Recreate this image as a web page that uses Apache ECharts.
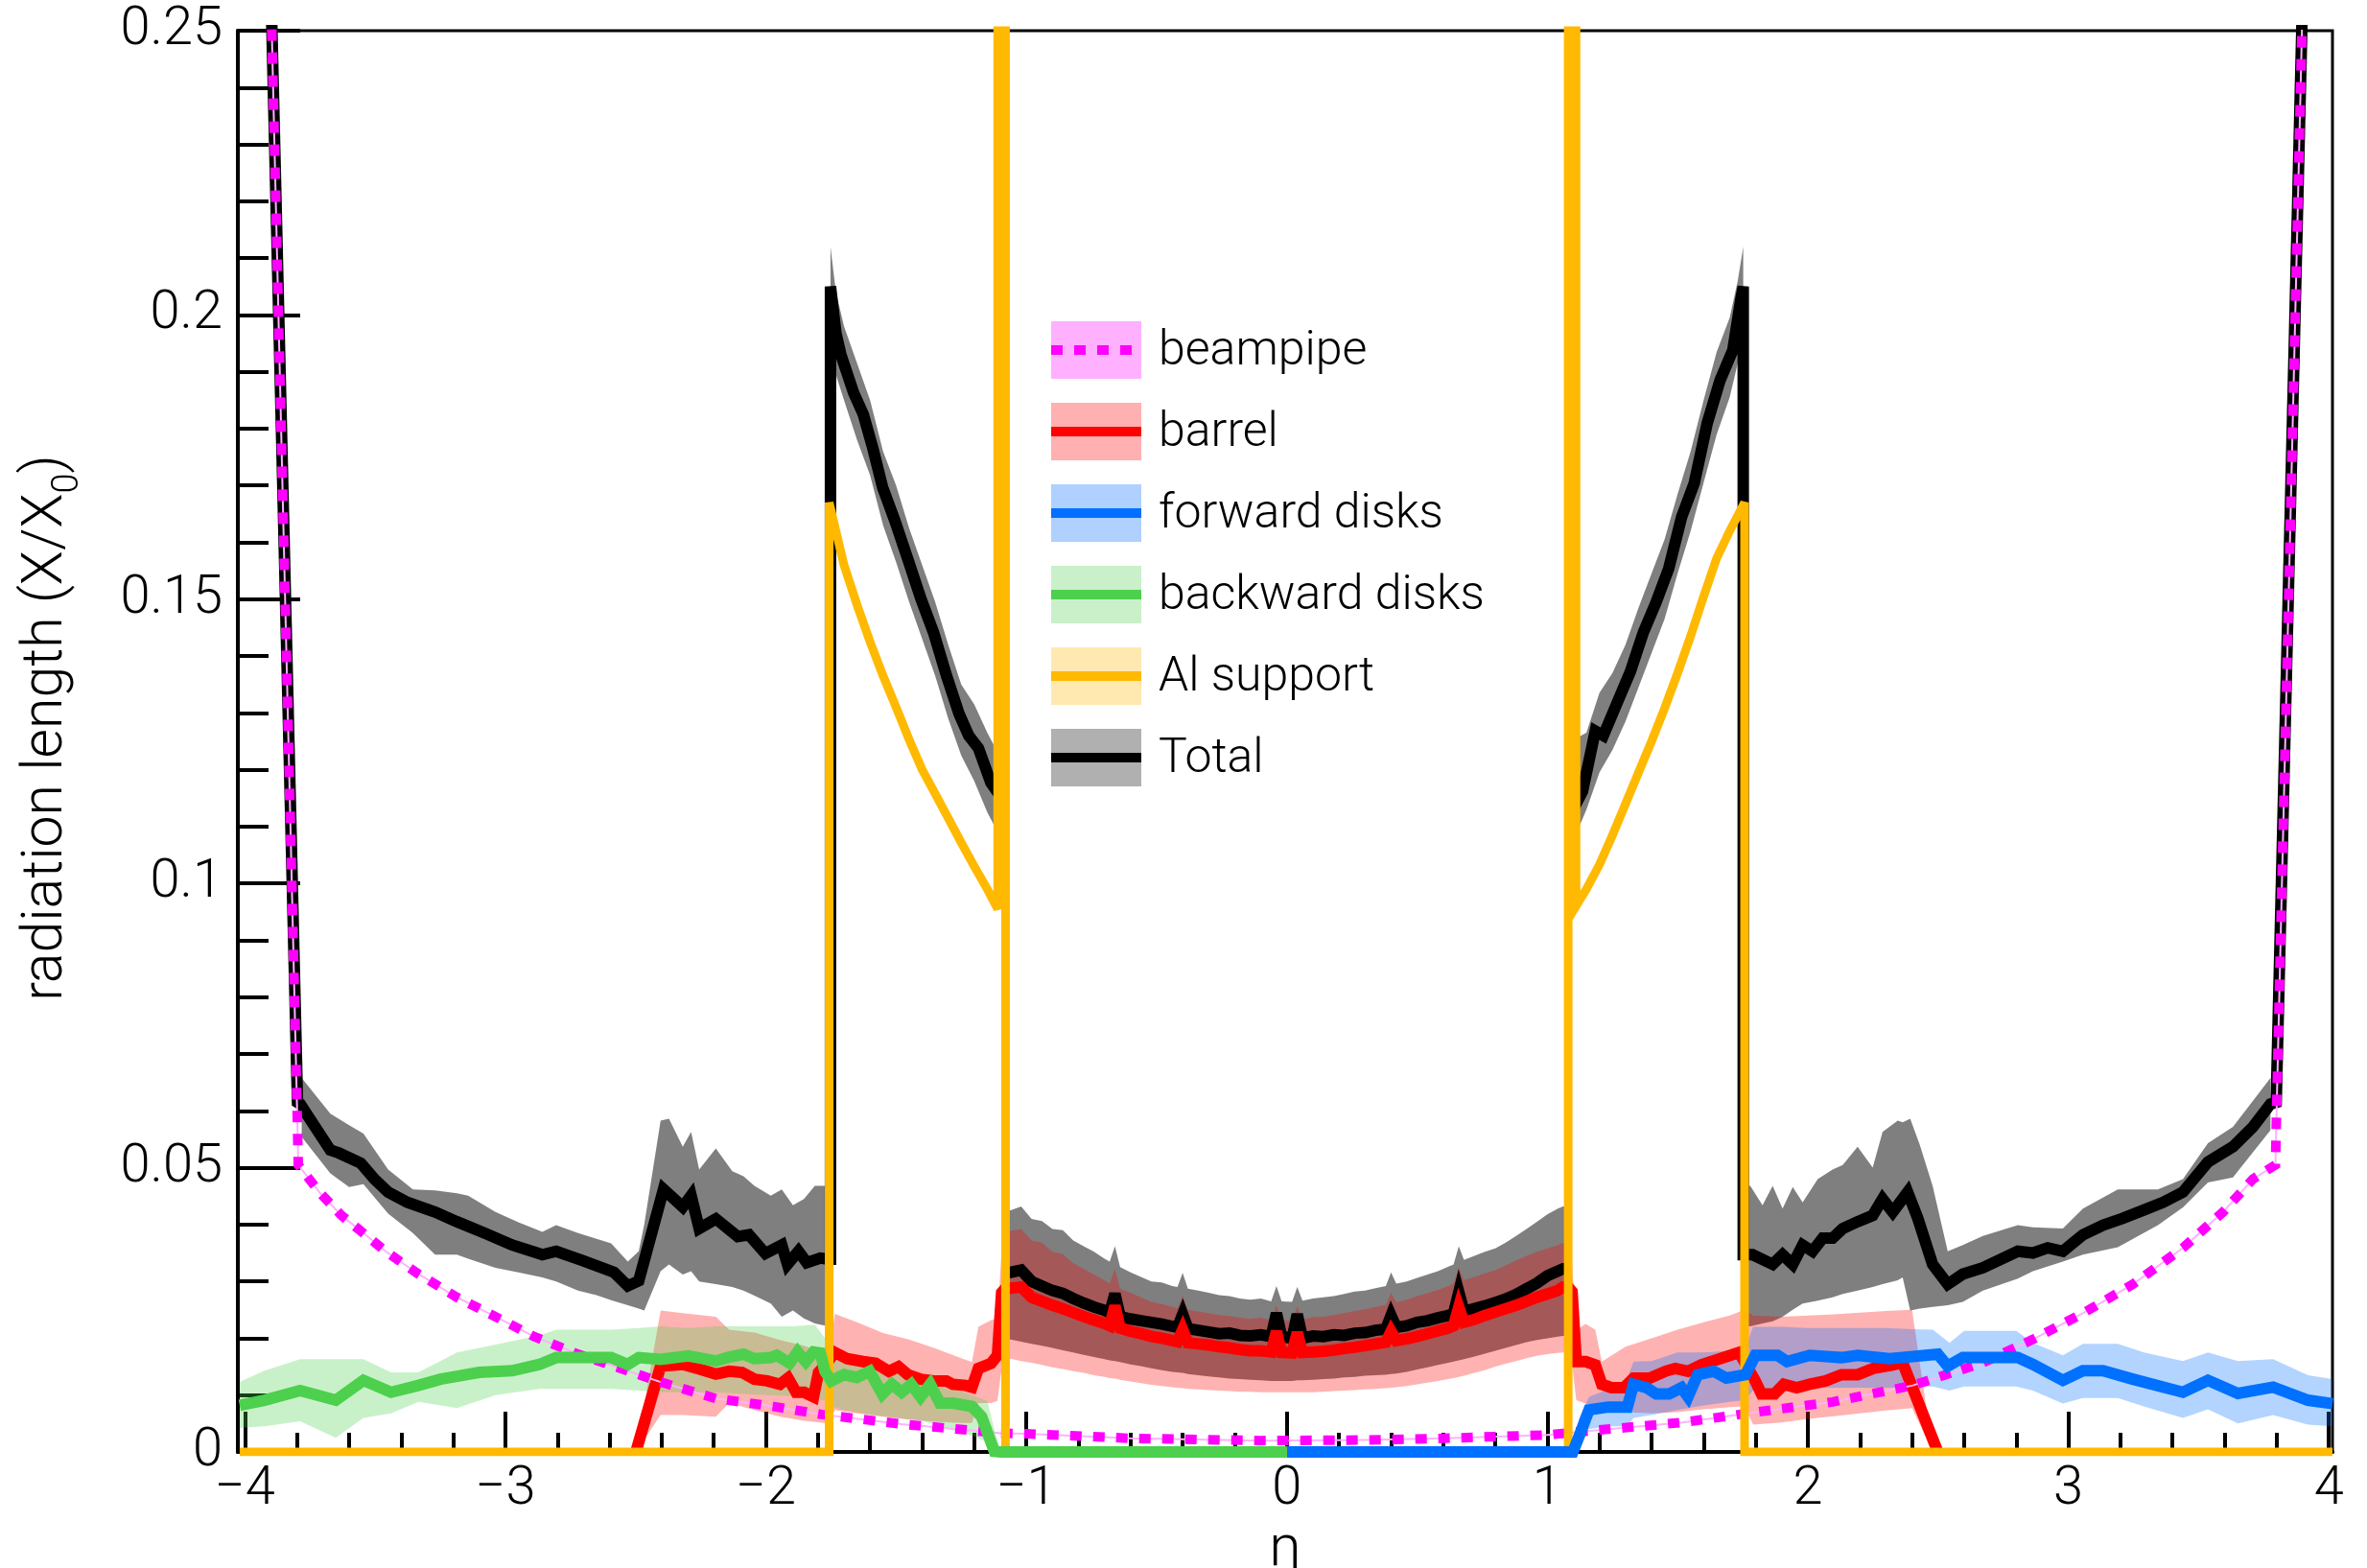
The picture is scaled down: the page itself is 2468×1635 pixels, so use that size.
<!DOCTYPE html>
<html><head><meta charset="utf-8">
<script src="https://cdn.jsdelivr.net/npm/echarts@6/dist/echarts.min.js"></script>
<style>html,body{margin:0;padding:0;background:#fff}#chart{width:2468px;height:1635px}</style>
</head><body><div id="chart"></div>
<script>
// ---------------- DATA ----------------
const xMajorTicks = [-4,-3,-2,-1,0,1,2,3,4];
const xMinorTicks = [-3.8,-3.6,-3.4,-3.2,-2.8,-2.6,-2.4,-2.2,-1.8,-1.6,-1.4,-1.2,-0.8,-0.6,-0.4,-0.2,0.2,0.4,0.6,0.8,1.2,1.4,1.6,1.8,2.2,2.4,2.6,2.8,3.2,3.4,3.6,3.8];
const legendNames = ['beampipe','barrel','forward disks','backward disks','Al support','Total'];

// shared fine grid of the barrel region
const centerEta = [-1.06,-1.02,-0.98,-0.94,-0.90,-0.86,-0.82,-0.78,-0.74,-0.70,-0.68,-0.66,-0.64,-0.60,-0.56,-0.52,-0.48,-0.44,-0.42,-0.40,-0.38,-0.34,-0.30,-0.26,-0.22,-0.18,-0.14,-0.10,-0.06,-0.04,-0.02,0.02,0.04,0.06,0.10,0.14,0.18,0.22,0.26,0.30,0.34,0.38,0.40,0.42,0.46,0.50,0.54,0.58,0.62,0.64,0.66,0.68,0.72,0.76,0.80,0.84,0.88,0.92,0.96,1.00,1.04,1.06];

// Total (null = gap hidden behind the Al spike)
const totalLeftEta = [-3.93,-3.798,-3.788,-3.672,-3.640,-3.555,-3.503,-3.450,-3.376,-3.270,-3.186,-3.080,-2.974,-2.858,-2.805,-2.699,-2.583,-2.530,-2.488,-2.393,-2.319,-2.287,-2.256,-2.192,-2.108,-2.065,-2.002,-1.939,-1.917,-1.875,-1.843,-1.791,-1.760];
const totalLeftVal = [0.315,0.0615,0.0612,0.0531,0.0526,0.0508,0.0480,0.0457,0.0439,0.0422,0.0405,0.0385,0.0364,0.0347,0.0353,0.0336,0.0316,0.0292,0.0301,0.0462,0.0431,0.0451,0.0393,0.0410,0.0379,0.0382,0.0349,0.0364,0.0330,0.0353,0.0333,0.0341,0.0339];
const totalPeakLeftEta = [-1.752,-1.752,-1.731,-1.712,-1.663,-1.626,-1.589,-1.552,-1.504,-1.454,-1.405,-1.356,-1.307,-1.258,-1.221,-1.184,-1.136,-1.110,-1.095,-1.085,-1.075];
const totalPeakLeftVal = [0.0339,0.2050,0.1968,0.1930,0.1863,0.1825,0.1765,0.1697,0.1637,0.1569,0.1501,0.1441,0.1366,0.1298,0.1260,0.1238,0.1177,0.1160,0.1155,null,0.0316];
const totalCenterVal = [0.0316,0.0320,0.0300,0.0292,0.0284,0.0279,0.0270,0.0262,0.0255,0.0249,0.0245,0.0278,0.0238,0.0234,0.0231,0.0228,0.0225,0.0221,0.0219,0.0242,0.0217,0.0214,0.0211,0.0208,0.0209,0.0205,0.0204,0.0206,0.0203,0.0244,0.0203,0.0200,0.0242,0.0200,0.0204,0.0203,0.0206,0.0205,0.0209,0.0210,0.0214,0.0216,0.0240,0.0219,0.0222,0.0228,0.0231,0.0236,0.0240,0.0244,0.0281,0.0247,0.0252,0.0257,0.0263,0.0269,0.0277,0.0287,0.0297,0.0310,0.0318,0.0322];
const totalPeakRightEta = [1.075,1.085,1.095,1.110,1.135,1.184,1.215,1.270,1.319,1.368,1.417,1.466,1.515,1.564,1.614,1.663,1.712,1.743,1.752,1.752];
const totalPeakRightVal = [0.0322,null,0.1150,0.1140,0.1162,0.1268,0.1260,0.1320,0.1373,0.1441,0.1494,0.1554,0.1644,0.1704,0.1810,0.1885,0.1938,0.2028,0.2050,0.0347];
const totalRightEta = [1.788,1.865,1.903,1.942,1.980,2.018,2.057,2.095,2.134,2.191,2.249,2.287,2.326,2.383,2.422,2.479,2.537,2.595,2.672,2.806,2.864,2.921,2.979,3.056,3.133,3.209,3.286,3.363,3.440,3.536,3.632,3.709,3.776,3.798,3.93];
const totalRightVal = [0.0347,0.0330,0.0347,0.0330,0.0364,0.0353,0.0376,0.0376,0.0393,0.0405,0.0416,0.0445,0.0422,0.0457,0.0411,0.0330,0.0295,0.0313,0.0324,0.0353,0.0350,0.0359,0.0353,0.0382,0.0399,0.0411,0.0425,0.0439,0.0457,0.0510,0.0537,0.0572,0.0612,0.0615,0.315];

// Total uncertainty band
const totalBandLeftEta = [-3.782,-3.672,-3.600,-3.545,-3.450,-3.355,-3.270,-3.186,-3.143,-3.038,-2.950,-2.858,-2.805,-2.721,-2.650,-2.594,-2.530,-2.488,-2.467,-2.404,-2.372,-2.319,-2.287,-2.256,-2.192,-2.129,-2.086,-2.044,-1.981,-1.939,-1.896,-1.854,-1.812,-1.760];
const totalBandLeftLo = [0.0554,0.0490,0.0466,0.0471,0.0419,0.0385,0.0347,0.0347,0.0340,0.0324,0.0316,0.0307,0.0300,0.0284,0.0276,0.0267,0.0258,0.0252,0.0249,0.0318,0.0330,0.0312,0.0318,0.0300,0.0295,0.0290,0.0284,0.0275,0.0261,0.0238,0.0249,0.0235,0.0226,0.0221];
const totalBandLeftHi = [0.0658,0.0595,0.0575,0.0560,0.0497,0.0462,0.0460,0.0455,0.0451,0.0422,0.0404,0.0387,0.0399,0.0385,0.0375,0.0367,0.0335,0.0353,0.0400,0.0583,0.0586,0.0537,0.0563,0.0497,0.0534,0.0494,0.0485,0.0468,0.0451,0.0462,0.0434,0.0445,0.0468,0.0468];
const totalBandPeakLeftEta = [-1.752,-1.752,-1.731,-1.700,-1.650,-1.600,-1.550,-1.500,-1.450,-1.400,-1.350,-1.300,-1.250,-1.200,-1.150,-1.110,-1.090,-1.078];
const totalBandPeakLeftLo = [0.0221,0.1990,0.1895,0.1850,0.1780,0.1718,0.1630,0.1565,0.1495,0.1430,0.1365,0.1290,0.1225,0.1180,0.1125,0.1090,0.1085,0.0198];
const totalBandPeakLeftHi = [0.0468,0.2120,0.2040,0.1980,0.1915,0.1850,0.1760,0.1700,0.1625,0.1560,0.1495,0.1420,0.1350,0.1315,0.1265,0.1230,0.1220,0.0425];
const totalBandCenterLo = [0.0198,0.0194,0.0190,0.0187,0.0183,0.0179,0.0175,0.0171,0.0167,0.0163,0.0161,0.0160,0.0158,0.0154,0.0151,0.0147,0.0144,0.0141,0.0140,0.0139,0.0137,0.0135,0.0133,0.0131,0.0129,0.0128,0.0127,0.0126,0.0125,0.0125,0.0125,0.0125,0.0126,0.0126,0.0127,0.0128,0.0129,0.0131,0.0132,0.0134,0.0135,0.0136,0.0137,0.0138,0.0141,0.0145,0.0149,0.0153,0.0157,0.0159,0.0161,0.0163,0.0168,0.0173,0.0178,0.0183,0.0188,0.0193,0.0197,0.0200,0.0203,0.0204];
const totalBandCenterHi = [0.0425,0.0432,0.0410,0.0406,0.0392,0.0390,0.0372,0.0362,0.0352,0.0340,0.0335,0.0362,0.0325,0.0316,0.0308,0.0300,0.0298,0.0292,0.0290,0.0315,0.0287,0.0284,0.0280,0.0276,0.0274,0.0270,0.0268,0.0270,0.0265,0.0292,0.0265,0.0264,0.0290,0.0266,0.0270,0.0272,0.0274,0.0278,0.0282,0.0284,0.0288,0.0292,0.0316,0.0296,0.0300,0.0306,0.0312,0.0318,0.0326,0.0330,0.0362,0.0338,0.0345,0.0352,0.0358,0.0368,0.0380,0.0392,0.0405,0.0418,0.0428,0.0432];
const totalBandPeakRightEta = [1.078,1.090,1.110,1.150,1.200,1.250,1.300,1.350,1.400,1.450,1.500,1.550,1.600,1.650,1.700,1.731,1.752,1.752];
const totalBandPeakRightLo = [0.0204,0.1085,0.1087,0.1130,0.1195,0.1235,0.1285,0.1345,0.1405,0.1465,0.1545,0.1620,0.1705,0.1790,0.1855,0.1915,0.1990,0.0221];
const totalBandPeakRightHi = [0.0432,0.1253,0.1255,0.1265,0.1335,0.1370,0.1420,0.1485,0.1545,0.1605,0.1685,0.1760,0.1850,0.1935,0.1995,0.2060,0.2120,0.0468];
const totalBandRightEta = [1.779,1.826,1.865,1.903,1.942,1.980,2.038,2.095,2.134,2.191,2.249,2.287,2.345,2.364,2.393,2.430,2.479,2.537,2.595,2.672,2.806,2.864,2.979,3.056,3.190,3.344,3.440,3.536,3.632,3.776];
const totalBandRightLo = [0.0221,0.0226,0.0230,0.0238,0.0250,0.0261,0.0266,0.0272,0.0278,0.0284,0.0290,0.0295,0.0302,0.0307,0.0249,0.0252,0.0255,0.0258,0.0264,0.0284,0.0305,0.0318,0.0335,0.0347,0.0360,0.0399,0.0430,0.0474,0.0483,0.0566];
const totalBandRightHi = [0.0468,0.0434,0.0468,0.0428,0.0466,0.0439,0.0480,0.0497,0.0505,0.0537,0.0500,0.0563,0.0583,0.0580,0.0586,0.0540,0.0468,0.0353,0.0364,0.0380,0.0399,0.0395,0.0393,0.0428,0.0462,0.0462,0.0480,0.0543,0.0572,0.0658];

// barrel
const barrelLeftEta = [-2.499,-2.404,-2.319,-2.256,-2.192,-2.141,-2.092,-2.044,-1.995,-1.946,-1.915,-1.884,-1.853,-1.817,-1.798,-1.776,-1.735,-1.688,-1.627,-1.578,-1.528,-1.491,-1.455,-1.406,-1.357,-1.307,-1.282,-1.233,-1.209,-1.184,-1.135,-1.111,-1.095,-1.080];
const barrelLeftVal = [0,0.0151,0.0154,0.0146,0.0137,0.0142,0.0140,0.0128,0.0125,0.0119,0.0130,0.0105,0.0105,0.0097,0.0140,0.0151,0.0175,0.0164,0.0159,0.0156,0.0142,0.0150,0.0136,0.0128,0.0125,0.0125,0.0119,0.0117,0.0114,0.0147,0.0156,0.0170,0.0280,0.0288];
const barrelCenterVal = [0.0288,0.0290,0.0272,0.0265,0.0258,0.0252,0.0245,0.0238,0.0232,0.0226,0.0222,0.0257,0.0218,0.0212,0.0208,0.0203,0.0200,0.0196,0.0194,0.0215,0.0192,0.0190,0.0188,0.0185,0.0183,0.0180,0.0178,0.0178,0.0176,0.0212,0.0175,0.0174,0.0210,0.0175,0.0176,0.0177,0.0179,0.0182,0.0184,0.0187,0.0190,0.0193,0.0212,0.0196,0.0199,0.0203,0.0208,0.0213,0.0218,0.0222,0.0255,0.0228,0.0233,0.0240,0.0246,0.0252,0.0258,0.0265,0.0272,0.0278,0.0284,0.0290];
const barrelRightEta = [1.080,1.095,1.111,1.147,1.184,1.209,1.246,1.295,1.331,1.393,1.454,1.491,1.540,1.589,1.663,1.736,1.798,1.822,1.872,1.908,1.957,2.007,2.068,2.129,2.191,2.252,2.325,2.364,2.499];
const barrelRightVal = [0.0290,0.0282,0.0159,0.0159,0.0153,0.0119,0.0113,0.0113,0.0130,0.0130,0.0142,0.0147,0.0142,0.0153,0.0164,0.0175,0.0125,0.0102,0.0102,0.0119,0.0113,0.0119,0.0125,0.0136,0.0136,0.0147,0.0153,0.0157,0];
const barrelBandLeftEta = [-2.499,-2.404,-2.319,-2.192,-2.141,-2.044,-1.946,-1.853,-1.776,-1.757,-1.735,-1.650,-1.550,-1.450,-1.350,-1.250,-1.209,-1.184,-1.135,-1.111,-1.090];
const barrelBandLeftLo = [0,0.0065,0.0065,0.0062,0.0086,0.0074,0.0062,0.0055,0.0051,0.0051,0.0074,0.0068,0.0062,0.0057,0.0053,0.0051,0.0051,0.0086,0.0086,0.0090,0.0164];
const barrelBandLeftHi = [0,0.0249,0.0244,0.0238,0.0215,0.0210,0.0197,0.0187,0.0175,0.0175,0.0243,0.0228,0.0209,0.0198,0.0182,0.0165,0.0158,0.0220,0.0232,0.0235,0.0389];
const barrelBandCenterLo = [0.0164,0.0160,0.0157,0.0153,0.0149,0.0146,0.0142,0.0139,0.0135,0.0132,0.0130,0.0129,0.0127,0.0124,0.0121,0.0118,0.0116,0.0114,0.0113,0.0112,0.0111,0.0110,0.0109,0.0108,0.0107,0.0106,0.0106,0.0105,0.0105,0.0105,0.0105,0.0105,0.0105,0.0105,0.0105,0.0106,0.0107,0.0108,0.0109,0.0110,0.0111,0.0112,0.0113,0.0114,0.0116,0.0119,0.0122,0.0125,0.0128,0.0130,0.0132,0.0134,0.0139,0.0144,0.0150,0.0155,0.0160,0.0165,0.0169,0.0172,0.0174,0.0175];
const barrelBandCenterHi = [0.0389,0.0392,0.0372,0.0368,0.0352,0.0348,0.0332,0.0322,0.0312,0.0302,0.0296,0.0322,0.0287,0.0280,0.0272,0.0264,0.0260,0.0255,0.0253,0.0275,0.0250,0.0247,0.0244,0.0241,0.0239,0.0236,0.0234,0.0236,0.0232,0.0258,0.0232,0.0231,0.0256,0.0233,0.0237,0.0238,0.0241,0.0244,0.0248,0.0251,0.0255,0.0259,0.0280,0.0263,0.0268,0.0274,0.0279,0.0285,0.0292,0.0296,0.0325,0.0302,0.0308,0.0314,0.0320,0.0328,0.0337,0.0345,0.0352,0.0358,0.0364,0.0368];
const barrelBandRightEta = [1.090,1.111,1.147,1.184,1.209,1.300,1.400,1.500,1.600,1.700,1.757,1.790,1.900,2.000,2.100,2.200,2.300,2.400,2.480];
const barrelBandRightLo = [0.0175,0.0091,0.0085,0.0080,0.0074,0.0070,0.0068,0.0070,0.0075,0.0079,0.0080,0.0048,0.0052,0.0058,0.0063,0.0068,0.0073,0.0077,0];
const barrelBandRightHi = [0.0366,0.0215,0.0225,0.0215,0.0159,0.0185,0.0200,0.0215,0.0228,0.0240,0.0250,0.0240,0.0238,0.0240,0.0242,0.0245,0.0248,0.0250,0];

// beampipe
const beamEta = [-3.93,-3.800,-3.795,-3.714,-3.629,-3.545,-3.460,-3.334,-3.186,-3.038,-2.890,-2.721,-2.552,-2.404,-2.192,-1.970,-1.786,-1.676,-1.479,-1.283,-1.098,-1.000,-0.600,-0.100,0.300,0.600,1.000,1.135,1.519,1.769,2.095,2.403,2.672,2.864,3.056,3.248,3.440,3.594,3.709,3.795,3.800,3.93];
const beamVal = [0.315,0.061,0.0505,0.0457,0.0416,0.0385,0.0353,0.0313,0.0272,0.0238,0.0203,0.0172,0.0146,0.0123,0.0094,0.0080,0.0066,0.0060,0.0049,0.0041,0.0033,0.0032,0.0024,0.0020,0.0021,0.0024,0.0030,0.0036,0.0052,0.0068,0.0088,0.0117,0.0157,0.0198,0.0244,0.0295,0.0359,0.0422,0.0480,0.0505,0.061,0.315];

// Al support
const alEta = [-4.02,-1.757,-1.757,-1.70,-1.65,-1.60,-1.55,-1.50,-1.45,-1.40,-1.35,-1.30,-1.25,-1.20,-1.15,-1.110,-1.110,-1.080,-1.080,1.080,1.080,1.110,1.110,1.15,1.20,1.25,1.30,1.35,1.40,1.45,1.50,1.55,1.60,1.65,1.70,1.757,1.757,4.014];
const alVal = [0,0,0.167,0.1560,0.1490,0.1425,0.1365,0.1310,0.1253,0.1200,0.1158,0.1115,0.1072,0.1030,0.0990,0.0955,0.32,0.32,0,0,0.32,0.32,0.0960,0.0990,0.1033,0.1085,0.1140,0.1195,0.1250,0.1308,0.1370,0.1435,0.1505,0.1572,0.1620,0.1670,0,0];

// forward disks
const fwdEta = [0,1.098,1.123,1.160,1.233,1.307,1.331,1.381,1.418,1.467,1.515,1.540,1.577,1.638,1.687,1.761,1.798,1.884,1.920,2.007,2.129,2.191,2.313,2.364,2.499,2.537,2.595,2.806,2.864,2.979,3.056,3.133,3.248,3.440,3.536,3.651,3.786,3.920,4.014];
const fwdVal = [0,0,0.0029,0.0074,0.0079,0.0079,0.0119,0.0113,0.0102,0.0102,0.0113,0.0097,0.0136,0.0142,0.0130,0.0136,0.0170,0.0170,0.0159,0.0170,0.0166,0.0170,0.0164,0.0166,0.0172,0.0151,0.0166,0.0166,0.0154,0.0126,0.0143,0.0143,0.0128,0.0105,0.0126,0.0103,0.0114,0.0091,0.0085];
const fwdBandEta = [1.098,1.123,1.160,1.233,1.307,1.331,1.400,1.500,1.600,1.700,1.757,1.790,1.900,2.000,2.100,2.200,2.300,2.400,2.480,2.544,2.600,2.800,2.864,2.979,3.056,3.190,3.290,3.440,3.536,3.651,3.786,3.920,4.014];
const fwdBandLo = [0,0.0010,0.0040,0.0045,0.0045,0.0060,0.0065,0.0074,0.0082,0.0088,0.0091,0.0108,0.0110,0.0112,0.0113,0.0113,0.0113,0.0114,0.0115,0.0108,0.0115,0.0115,0.0108,0.0085,0.0095,0.0095,0.0080,0.0060,0.0075,0.0050,0.0065,0.0048,0.0045];
const fwdBandHi = [0,0.0060,0.0097,0.0110,0.0130,0.0159,0.0160,0.0175,0.0175,0.0178,0.0180,0.0220,0.0220,0.0218,0.0218,0.0218,0.0218,0.0216,0.0215,0.0192,0.0213,0.0213,0.0192,0.0170,0.0190,0.0190,0.0175,0.0160,0.0175,0.0160,0.0163,0.0135,0.0128];

// backward disks
const bwdEta = [-4.020,-3.925,-3.788,-3.651,-3.545,-3.439,-3.334,-3.249,-3.101,-2.974,-2.869,-2.805,-2.678,-2.594,-2.530,-2.488,-2.404,-2.298,-2.192,-2.141,-2.086,-2.044,-1.981,-1.958,-1.909,-1.878,-1.847,-1.817,-1.791,-1.773,-1.749,-1.700,-1.651,-1.602,-1.553,-1.516,-1.479,-1.442,-1.406,-1.369,-1.332,-1.283,-1.209,-1.172,-1.123,-1.098,0];
const bwdVal = [0.0082,0.0091,0.0108,0.0091,0.0126,0.0105,0.0117,0.0128,0.0140,0.0143,0.0154,0.0166,0.0166,0.0166,0.0154,0.0166,0.0163,0.0169,0.0160,0.0167,0.0172,0.0164,0.0166,0.0170,0.0156,0.0176,0.0159,0.0176,0.0174,0.0142,0.0125,0.0136,0.0131,0.0142,0.0102,0.0119,0.0105,0.0119,0.0097,0.0119,0.0086,0.0086,0.0080,0.0062,0.0001,0,0];
const bwdBandEta = [-4.020,-3.925,-3.788,-3.651,-3.545,-3.439,-3.334,-3.186,-3.038,-2.869,-2.805,-2.678,-2.594,-2.488,-2.404,-2.298,-2.192,-2.086,-1.981,-1.896,-1.812,-1.773,-1.749,-1.700,-1.600,-1.500,-1.400,-1.300,-1.209,-1.150,-1.123,-1.098];
const bwdBandLo = [0.0042,0.0045,0.0054,0.0025,0.0060,0.0068,0.0088,0.0077,0.0100,0.0111,0.0111,0.0111,0.0111,0.0108,0.0105,0.0105,0.0105,0.0102,0.0100,0.0098,0.0094,0.0090,0.0080,0.0074,0.0066,0.0060,0.0055,0.0040,0.0029,0.0017,0.0005,0];
const bwdBandHi = [0.0123,0.0143,0.0163,0.0163,0.0163,0.0140,0.0140,0.0175,0.0189,0.0205,0.0215,0.0215,0.0215,0.0218,0.0221,0.0218,0.0221,0.0221,0.0221,0.0221,0.0224,0.0200,0.0164,0.0164,0.0155,0.0145,0.0130,0.0115,0.0100,0.0090,0.0040,0];

// ---------------- BUILD ----------------
const FONT = 'Roboto, "Liberation Sans", sans-serif';
const totalEta = [].concat(totalLeftEta, totalPeakLeftEta, centerEta, totalPeakRightEta, totalRightEta);
const totalVal = [].concat(totalLeftVal, totalPeakLeftVal, totalCenterVal, totalPeakRightVal, totalRightVal);
const totalBandEta = [].concat(totalBandLeftEta, totalBandPeakLeftEta, centerEta, totalBandPeakRightEta, totalBandRightEta);
const totalBandLo = [].concat(totalBandLeftLo, totalBandPeakLeftLo, totalBandCenterLo, totalBandPeakRightLo, totalBandRightLo);
const totalBandHi = [].concat(totalBandLeftHi, totalBandPeakLeftHi, totalBandCenterHi, totalBandPeakRightHi, totalBandRightHi);
const barrelEta = [].concat(barrelLeftEta, centerEta, barrelRightEta);
const barrelVal = [].concat(barrelLeftVal, barrelCenterVal, barrelRightVal);
const barrelBandEta = [].concat(barrelBandLeftEta, centerEta, barrelBandRightEta);
const barrelBandLo = [].concat(barrelBandLeftLo, barrelBandCenterLo, barrelBandRightLo);
const barrelBandHi = [].concat(barrelBandLeftHi, barrelBandCenterHi, barrelBandRightHi);

function band(name, eta, lo, hi, color) {
  return {
    type: 'custom', name: name, silent: true, coordinateSystem: 'cartesian2d',
    data: eta.map((e, i) => [e, lo[i], hi[i]]),
    encode: { x: 0, y: [1, 2] },
    renderItem: function (params, api) {
      if (params.dataIndex !== 0) return null;
      const top = eta.map((e, i) => api.coord([e, hi[i]]));
      const bot = eta.map((e, i) => api.coord([e, lo[i]])).reverse();
      return { type: 'polygon', shape: { points: top.concat(bot) }, style: { fill: color } };
    }
  };
}
function line(name, eta, val, color, width, dash) {
  return {
    type: 'line', name: name, silent: true, showSymbol: false, symbol: 'none', clip: true, connectNulls: false,
    data: eta.map((e, i) => [e, val[i] === null ? '-' : val[i]]),
    lineStyle: { color: color, width: width, type: dash || 'solid', cap: 'butt', join: 'miter', miterLimit: 4 },
    emphasis: { disabled: true }
  };
}

const legendStyles = [
  { fill: '#ffb0ff', stroke: '#ff00ff', dash: [12, 12] },
  { fill: '#ffb0b0', stroke: '#ff0000' },
  { fill: '#b0d0ff', stroke: '#0070ff' },
  { fill: '#caf0ca', stroke: '#4dd04d' },
  { fill: '#ffe9b0', stroke: '#ffb900' },
  { fill: '#b0b0b0', stroke: '#000000' }
];
const legendGraphics = [];
legendNames.forEach((nm, i) => {
  const cy = 365 + i * 85;
  const st = legendStyles[i];
  legendGraphics.push({ type: 'rect', shape: { x: 1096, y: cy - 30, width: 94, height: 60 }, style: { fill: st.fill }, silent: true, z: 100 });
  legendGraphics.push({ type: 'line', shape: { x1: 1096, y1: cy, x2: 1190, y2: cy }, style: { stroke: st.stroke, lineWidth: 10, lineDash: st.dash || null }, silent: true, z: 101 });
  legendGraphics.push({ type: 'text', x: 1208, y: cy + 2, style: { text: nm, fontSize: 50, fontFamily: FONT, fontWeight: 300, fill: '#000', verticalAlign: 'middle', align: 'left' }, silent: true, z: 101 });
});

const tickStyle = { color: '#000', width: 4 };
const option = {
  animation: false,
  backgroundColor: '#fff',
  grid: { left: 248, right: 36, top: 32, bottom: 121, show: true, borderColor: '#000', borderWidth: 3, backgroundColor: 'transparent', containLabel: false, outerBoundsMode: 'none' },
  xAxis: [
    {
      type: 'value', min: -4.027, max: 4.014, position: 'bottom',
      axisLine: { show: true, onZero: false, lineStyle: { color: '#000', width: 4 } },
      axisTick: { show: true, inside: true, length: 42, lineStyle: tickStyle, customValues: xMajorTicks },
      axisLabel: { customValues: xMajorTicks, formatter: v => (v < 0 ? '\u2212' + Math.abs(v) : String(v)), fontSize: 56, fontFamily: FONT, fontWeight: 300, color: '#000', margin: 12 },
      splitLine: { show: false },
      name: '\u03b7', nameLocation: 'middle', nameGap: 50,
      nameTextStyle: { fontSize: 60, fontFamily: FONT, fontWeight: 300, color: '#000' }
    },
    {
      type: 'value', min: -4.027, max: 4.014, position: 'bottom',
      axisLine: { show: false, onZero: false },
      axisTick: { show: true, inside: true, length: 20, lineStyle: tickStyle, customValues: xMinorTicks },
      axisLabel: { show: false },
      splitLine: { show: false }
    }
  ],
  yAxis: {
    type: 'value', min: 0, max: 0.25, interval: 0.05, position: 'left',
    axisLine: { show: true, onZero: false, lineStyle: { color: '#000', width: 4 } },
    axisTick: { show: true, inside: true, length: 65, lineStyle: tickStyle },
    minorTick: { show: true, splitNumber: 5, length: 32, lineStyle: tickStyle },
    axisLabel: { fontSize: 56, fontFamily: FONT, fontWeight: 300, color: '#000', margin: 16, formatter: v => String(+v.toFixed(2)) },
    splitLine: { show: false },
    name: '{a|radiation length (X/X}{s|0}{a|)}', nameLocation: 'middle', nameGap: 158, nameRotate: 90,
    nameTextStyle: {
      fontSize: 59, fontFamily: FONT, fontWeight: 300, color: '#000', padding: [0, 0, 0, 28],
      rich: {
        a: { fontSize: 59, fontFamily: FONT, fontWeight: 300, color: '#000', lineHeight: 66, verticalAlign: 'middle' },
        s: { fontSize: 38, fontFamily: FONT, fontWeight: 300, color: '#000', lineHeight: 82, verticalAlign: 'bottom' }
      }
    }
  },
  graphic: legendGraphics,
  series: [
    band('Total band', totalBandEta, totalBandLo, totalBandHi, 'rgba(0,0,0,0.5)'),
    line('Total', totalEta, totalVal, '#000000', 12),
    band('barrel band', barrelBandEta, barrelBandLo, barrelBandHi, 'rgba(255,0,0,0.3)'),
    line('barrel', barrelEta, barrelVal, '#ff0000', 12),
    line('beampipe band', beamEta, beamVal, '#ffb0ff', 2),
    line('beampipe', beamEta, beamVal, '#ff00ff', 10, [12, 12]),
    line('Al support', alEta, alVal, '#ffb900', 9),
    band('forward disks band', fwdBandEta, fwdBandLo, fwdBandHi, 'rgba(0,112,255,0.3)'),
    line('forward disks', fwdEta, fwdVal, '#0070ff', 12),
    band('backward disks band', bwdBandEta, bwdBandLo, bwdBandHi, 'rgba(77,208,77,0.3)'),
    line('backward disks', bwdEta, bwdVal, '#4dd04d', 12)
  ]
};
const chart = echarts.init(document.getElementById('chart'), null, { renderer: 'canvas' });
chart.setOption(option);
</script>
</body></html>
